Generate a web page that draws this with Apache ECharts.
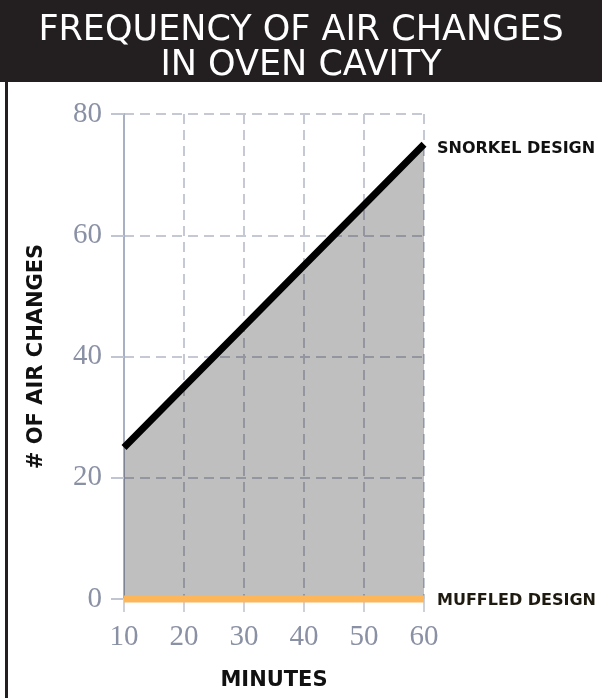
<!DOCTYPE html>
<html>
<head>
<meta charset="utf-8">
<title>Frequency of air changes in oven cavity</title>
<script src="https://cdn.jsdelivr.net/npm/echarts@6/dist/echarts.min.js"></script>
<style>
  html, body { margin: 0; padding: 0; background: #fff; }
  #chart { width: 602px; height: 698px; }
</style>
</head>
<body>
<div id="chart"></div>
<script>
// minutes on the x axis
var minutes = [10, 20, 30, 40, 50, 60];
// number of air changes per design
var snorkel = [25, 35, 45, 55, 65, 75];
var muffled = [0, 0, 0, 0, 0, 0];
var yTicks = [0, 20, 40, 60, 80];

var chart = echarts.init(document.getElementById('chart'));

function pairs(vals) {
  var out = [];
  for (var i = 0; i < minutes.length; i++) out.push([minutes[i], vals[i]]);
  return out;
}

var labelFont = 'DejaVu Sans';
var numFont = 'Liberation Serif';

var option = {
  animation: false,
  backgroundColor: '#fff',
  graphic: [
    { type: 'rect', shape: { x: 0, y: 0, width: 602, height: 82 }, style: { fill: '#231f20' }, z: 0 },
    { type: 'rect', shape: { x: 5, y: 0, width: 3, height: 698 }, style: { fill: '#231f20' }, z: 0 }
  ],
  title: [
    {
      text: 'FREQUENCY OF AIR CHANGES\nIN OVEN CAVITY',
      left: 'center',
      top: 8,
      textStyle: {
        color: '#fff',
        fontFamily: labelFont,
        fontWeight: 'normal',
        fontSize: 35,
        lineHeight: 35
      }
    }
  ],
  grid: { left: 124, right: 178, top: 114, bottom: 99 },
  xAxis: {
    type: 'value',
    min: 10,
    max: 60,
    interval: 10,
    name: 'MINUTES',
    nameLocation: 'middle',
    nameGap: 71,
    nameTextStyle: { color: '#111', fontFamily: labelFont, fontWeight: 'bold', fontSize: 21 },
    axisLine: { show: false },
    axisTick: { show: true, length: 13, lineStyle: { color: '#cdd1da', width: 2 } },
    axisLabel: { color: '#8a91a5', fontFamily: numFont, fontSize: 29, margin: 24 },
    splitLine: { show: true, lineStyle: { color: '#c5c9d3', width: 2, type: [10, 6] } }
  },
  yAxis: {
    type: 'value',
    min: yTicks[0],
    max: yTicks[yTicks.length - 1],
    interval: 20,
    name: '# OF AIR CHANGES',
    nameLocation: 'middle',
    nameRotate: 90,
    nameGap: 77,
    nameTextStyle: { color: '#111', fontFamily: labelFont, fontWeight: 'bold', fontSize: 21 },
    axisLine: { show: true, lineStyle: { color: '#a9b0c4', width: 2 } },
    axisTick: { show: true, length: 13, lineStyle: { color: '#c0c5d1', width: 2 } },
    axisLabel: { color: '#8a91a5', fontFamily: numFont, fontSize: 29, margin: 22 },
    splitLine: { show: true, lineStyle: { color: '#c5c9d3', width: 2, type: [10, 6] } }
  },
  series: [
    {
      name: 'SNORKEL DESIGN',
      type: 'line',
      data: pairs(snorkel),
      symbol: 'none',
      clip: false,
      lineStyle: { color: '#000', width: 7 },
      areaStyle: { color: '#000', opacity: 0.25 },
      endLabel: {
        show: true,
        formatter: '{a}',
        distance: 13,
        offset: [0, 5],
        color: '#111',
        fontFamily: labelFont,
        fontWeight: 'bold',
        fontSize: 16
      },
      z: 3
    },
    {
      name: 'MUFFLED DESIGN',
      type: 'line',
      data: pairs(muffled),
      symbol: 'none',
      clip: false,
      lineStyle: { color: '#fdb65a', width: 7 },
      endLabel: {
        show: true,
        formatter: '{a}',
        distance: 13,
        offset: [0, 2],
        color: '#1e1a10',
        fontFamily: labelFont,
        fontWeight: 'bold',
        fontSize: 16
      },
      z: 4
    }
  ]
};

chart.setOption(option);
</script>
</body>
</html>
